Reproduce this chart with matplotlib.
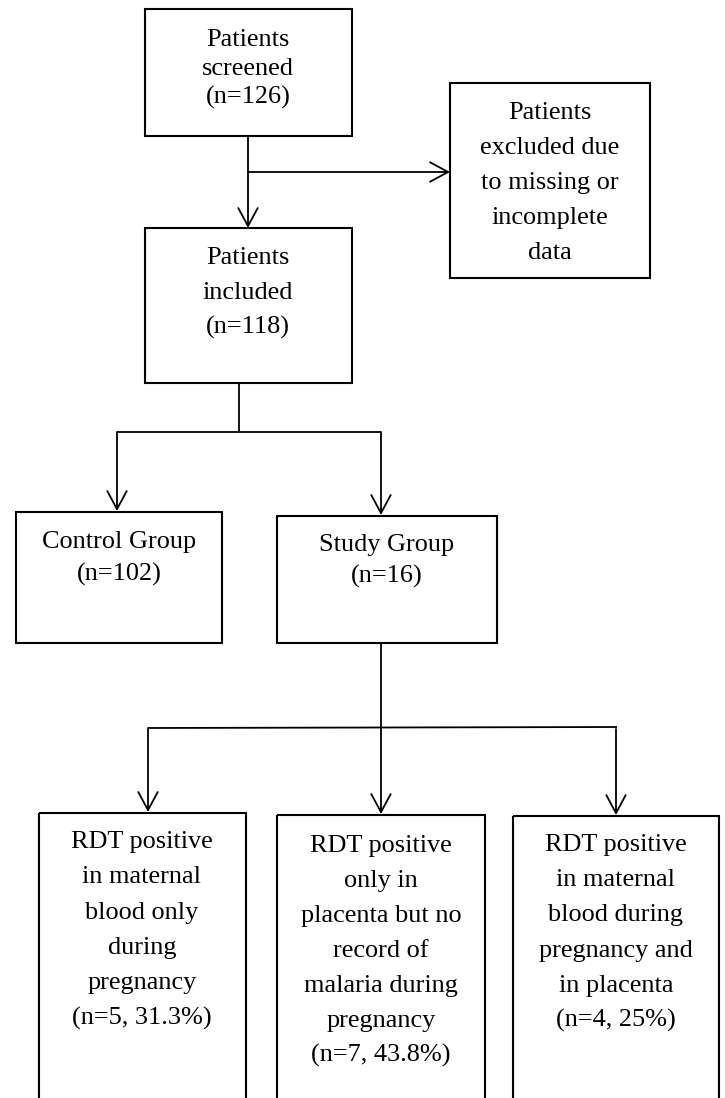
import matplotlib
matplotlib.use("Agg")
import matplotlib.pyplot as plt
from matplotlib.patches import Rectangle, FancyArrowPatch

# ---- content (text of each box) ----
box_screened = ["Patients", "screened", "(n=126)"]
box_excluded = ["Patients", "excluded due", "to missing or", "incomplete", "data"]
box_included = ["Patients", "included", "(n=118)"]
box_control = ["Control Group", "(n=102)"]
box_study = ["Study Group", "(n=16)"]
box_maternal = ["RDT positive", "in maternal", "blood only", "during", "pregnancy", "(n=5, 31.3%)"]
box_placenta = ["RDT positive", "only in", "placenta but no", "record of", "malaria during", "pregnancy", "(n=7, 43.8%)"]
box_both = ["RDT positive", "in maternal", "blood during", "pregnancy and", "in placenta", "(n=4, 25%)"]

# ---- layout (pixel coordinates, y downward) ----
W, H = 725, 1098
# (x0, y0, x1, y1, text_center_x, first_baseline, line_step)
layout = [
    (box_screened, (145, 9, 352, 136, 248, 46, 29)),
    (box_excluded, (450, 83, 650, 278, 550, 119, 35)),
    (box_included, (145, 228, 352, 383, 248, 264, 35)),
    (box_control, (16, 512, 222, 1.0e9, 119, 548, 33)),
    (box_study, (277, 516, 497, 643, 387, 551, 32)),
    (box_maternal, (39, 813, 246, 1115, 142, 848, 35.3)),
    (box_placenta, (277, 815, 485, 1115, 381, 852, 35.0)),
    (box_both, (513, 816, 719, 1115, 616, 851, 35.2)),
]
control_bottom = 643

fig = plt.figure(figsize=(W / 100, H / 100), dpi=100)
ax = fig.add_axes([0, 0, 1, 1])
ax.set_xlim(0, W)
ax.set_ylim(H, 0)
ax.axis("off")

FONT = "Liberation Serif"
FS = 18.9
BOX_LW = 1.5
LINE_LW = 1.3

for lines, (x0, y0, x1, y1, cx, b0, step) in layout:
    if y1 > 1e8:
        y1 = control_bottom
    ax.add_patch(Rectangle((x0, y0), x1 - x0, y1 - y0, fill=False,
                           edgecolor="black", linewidth=BOX_LW, clip_on=True))
    for i, t in enumerate(lines):
        ax.text(cx, b0 + i * step, t, ha="center", va="baseline",
                family=FONT, fontsize=FS, color="black")


def seg(x0, y0, x1, y1):
    ax.plot([x0, x1], [y0, y1], color="black", linewidth=LINE_LW,
            solid_capstyle="butt")


def arrow(x0, y0, x1, y1):
    ax.add_patch(FancyArrowPatch((x0, y0), (x1, y1),
                                 arrowstyle="->,head_length=13,head_width=7",
                                 mutation_scale=1, color="black",
                                 linewidth=LINE_LW, shrinkA=0, shrinkB=0))


# screened -> included, branch to excluded
arrow(248, 136, 248, 228)
arrow(248, 172, 450, 172)
# included -> groups
seg(239, 383, 239, 432)
seg(117, 432, 381, 432)
arrow(117, 432, 117, 511)
arrow(381, 432, 381, 515)
# study -> three subgroups
seg(381, 643, 381, 728)
seg(148, 728, 617, 727)
arrow(148, 728, 148, 812)
arrow(381, 728, 381, 814)
arrow(616, 729, 616, 815)

fig.savefig("out.png", dpi=100)
